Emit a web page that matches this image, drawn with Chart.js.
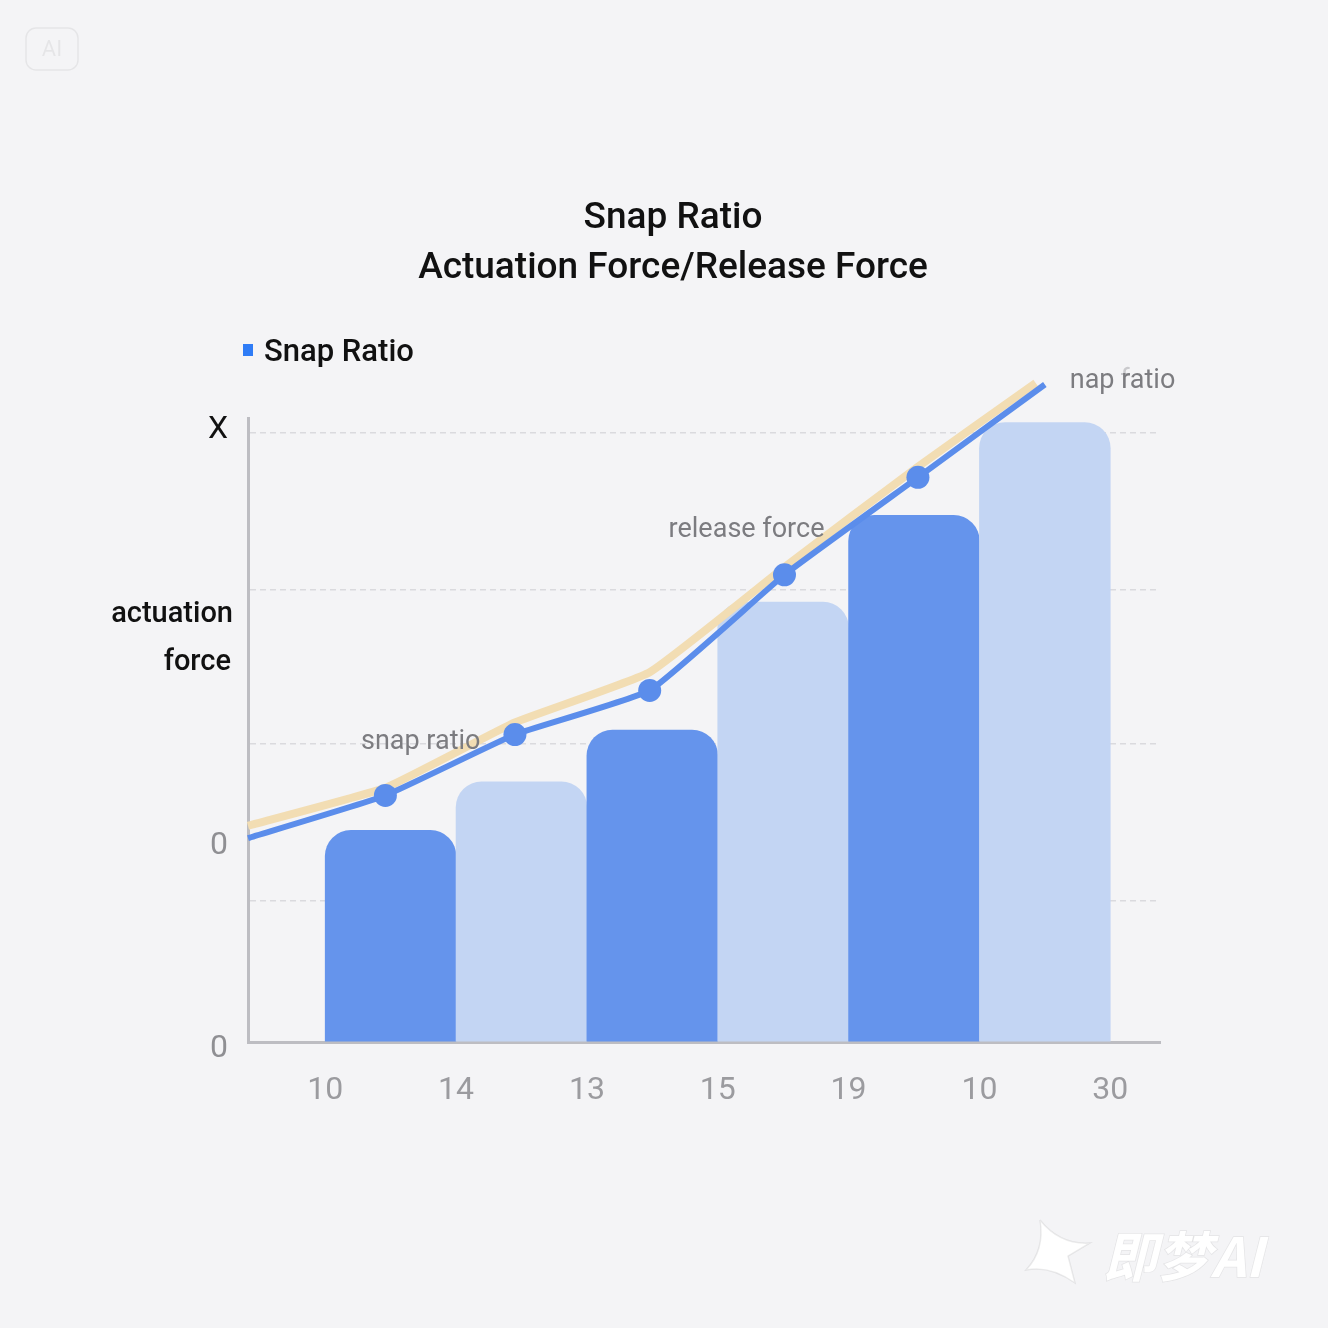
<!DOCTYPE html>
<html>
<head>
<meta charset="utf-8">
<title>Snap Ratio</title>
<script src="https://cdn.jsdelivr.net/npm/chart.js@4.4.1/dist/chart.umd.min.js"></script>
<style>
  html, body { margin: 0; padding: 0; background: #f4f4f6; }
  #wrap { width: 1328px; height: 1328px; }
</style>
</head>
<body>
<div id="wrap"><canvas id="grafico" width="1328" height="1328"></canvas></div>
<script>
    // valores (eixo x em unidades de barra, eixo y em unidades de grade)
    const tickLabels = ['10', '14', '13', '15', '19', '10', '30'];
    const barPositions = [0.5, 1.5, 2.5, 3.5, 4.5, 5.5];
    const barValues = [1.39, 1.71, 2.05, 2.89, 3.46, 4.07];

    const ratioX = [-0.59, 0.46, 1.45, 2.48, 3.51, 4.53, 5.5];
    const ratioValues = [1.34, 1.62, 2.02, 2.31, 3.07, 3.71, 4.32];

    const releaseX = [-0.59, 0.46, 1.45, 2.48, 3.51, 4.53, 5.43];
    const releaseValues = [1.42, 1.67, 2.10, 2.43, 3.12, 3.78, 4.33];

    const gridValues = [0, 0.93, 1.96, 2.97, 4.0];
    const yTickValues = [-0.045, 1.29, 4.02];
    const yTickLabels = ['0', '0', 'X'];

    const cores = ['#6594ec', '#c3d5f3'];
    const fonte = 'Roboto, "Open Sans", sans-serif';
    const fonteTicks = '"Liberation Sans Narrow", Roboto, sans-serif';
    const ajuste = 3; // o "middle" do Roboto fica um pouco alto

    // textos soltos no grafico
    const notas = [
      { text: 'snap ratio', x: 0.73, y: 1.99, align: 'center' },
      { text: 'release force', x: 3.22, y: 3.38, align: 'center' },
      { text: 'nap ratio', x: 5.69, y: 4.36, align: 'left' }
    ];

    const textos = {
      id: 'textos',
      afterDatasetsDraw(chart) {
        const { ctx, scales: { x, y } } = chart;
        ctx.save();
        ctx.font = '400 27px ' + fonte;
        ctx.fillStyle = '#7c7c80';
        ctx.textBaseline = 'middle';
        notas.forEach(n => {
          ctx.textAlign = n.align;
          const px = x.getPixelForValue(n.x);
          const py = y.getPixelForValue(n.y) + ajuste;
          ctx.fillText(n.text, px, py);
          if (n.text === 'nap ratio') {
            // o "f" fantasma por cima do r
            const w = ctx.measureText('nap ').width;
            ctx.globalAlpha = 0.35;
            ctx.fillText('f', px + w - 1, py);
            ctx.globalAlpha = 1;
          }
        });
        ctx.restore();
      },
      afterDraw(chart) {
        const { ctx } = chart;
        ctx.save();
        ctx.fillStyle = '#111';
        ctx.textBaseline = 'middle';
        ctx.textAlign = 'center';
        ctx.font = '500 37px ' + fonte;
        ctx.fillText('Snap Ratio', 673, 216 + ajuste);
        ctx.fillText('Actuation Force/Release Force', 673, 266 + ajuste);

        // legenda
        ctx.fillStyle = '#2f7cf6';
        ctx.fillRect(243, 344, 10, 12);
        ctx.fillStyle = '#111';
        ctx.textAlign = 'left';
        ctx.font = '500 31px ' + fonte;
        ctx.fillText('Snap Ratio', 264, 350 + ajuste);

        // titulo do eixo y
        ctx.textAlign = 'right';
        ctx.font = '500 29px ' + fonte;
        ctx.fillText('actuation', 233, 612 + ajuste);
        ctx.fillText('force', 231, 660 + ajuste);

        // marca d'agua
        ctx.font = 'italic 700 54px "Noto Sans CJK SC", sans-serif';
        ctx.fillStyle = 'rgba(255,255,255,0.95)';
        ctx.strokeStyle = 'rgba(0,0,0,0.07)';
        ctx.lineWidth = 1.5;
        ctx.textAlign = 'left';
        ctx.strokeText('即梦AI', 1103, 1256);
        ctx.fillText('即梦AI', 1103, 1256);
        ctx.beginPath();
        ctx.moveTo(1040, 1220);
        ctx.quadraticCurveTo(1060, 1245, 1090, 1243);
        ctx.lineTo(1068, 1256);
        ctx.lineTo(1075, 1283);
        ctx.quadraticCurveTo(1050, 1265, 1026, 1270);
        ctx.quadraticCurveTo(1045, 1250, 1040, 1220);
        ctx.fill();
        ctx.stroke();

        ctx.strokeStyle = 'rgba(0,0,0,0.06)';
        ctx.beginPath();
        ctx.roundRect(26, 28, 52, 42, 10);
        ctx.stroke();
        ctx.fillStyle = 'rgba(0,0,0,0.06)';
        ctx.font = '400 22px ' + fonte;
        ctx.textAlign = 'center';
        ctx.fillText('AI', 52, 50);
        ctx.restore();
      }
    };

    new Chart(document.getElementById('grafico'), {
      type: 'bar',
      data: {
        datasets: [{
          type: 'line',
          label: 'Snap Ratio',
          data: ratioX.map((v, i) => ({ x: v, y: ratioValues[i] })),
          borderColor: '#5b8deb',
          borderWidth: 6,
          backgroundColor: '#5b8deb',
          pointRadius: ratioX.map((v, i) => i === 0 ? 0 : 11.5),
          pointBorderWidth: 0,
          tension: 0.12,
          clip: false,
          order: 0
        }, {
          type: 'line',
          label: 'release force',
          data: releaseX.map((v, i) => ({ x: v, y: releaseValues[i] })),
          borderColor: '#f2ddb3',
          borderWidth: 8,
          pointRadius: 0,
          tension: 0.12,
          clip: false,
          order: 1
        }, {
          label: 'actuation force',
          data: barPositions.map((v, i) => ({ x: v, y: barValues[i] })),
          backgroundColor: barPositions.map((v, i) => cores[i % 2]),
          barPercentage: 1,
          categoryPercentage: 1,
          borderRadius: { topLeft: 26, topRight: 26, bottomLeft: 0, bottomRight: 0 },
          borderSkipped: 'start',
          order: 2
        }]
      },
      options: {
        responsive: false,
        animation: false,
        devicePixelRatio: 1,
        layout: { padding: { top: 418, right: 168, bottom: 206, left: 0 } },
        plugins: { legend: { display: false }, tooltip: { enabled: false } },
        scales: {
          x: {
            type: 'linear',
            offset: false,
            min: -0.59,
            max: 6.38,
            afterBuildTicks: s => { s.ticks = tickLabels.map((t, i) => ({ value: i })); },
            afterFit: s => { s.height = 80; },
            ticks: {
              callback: (v, i) => tickLabels[i],
              color: '#9b9b9f',
              font: { family: fonteTicks, size: 32 },
              padding: 30,
              autoSkip: false,
              maxRotation: 0
            },
            grid: { display: false, drawTicks: false },
            border: { display: true, color: '#bdbdc2', width: 3 }
          },
          y: {
            type: 'linear',
            min: 0,
            max: 4.1,
            weight: 0,
            afterBuildTicks: s => { s.ticks = gridValues.map(v => ({ value: v })); },
            afterFit: s => { s.width = 0; },
            ticks: { display: false },
            grid: { color: '#dadade', lineWidth: 1.5, drawTicks: false },
            border: { display: true, color: '#bdbdc2', width: 3, dash: [6, 4] }
          },
          yLab: {
            type: 'linear',
            position: 'left',
            min: 0,
            max: 4.1,
            weight: 1,
            afterBuildTicks: s => { s.ticks = yTickValues.map(v => ({ value: v })); },
            afterFit: s => { s.width = 248; },
            ticks: {
              callback: (v, i) => yTickLabels[i],
              color: c => yTickLabels[c.index] === 'X' ? '#111' : '#8f8f93',
              font: { family: fonteTicks, size: 32 },
              padding: 20,
              autoSkip: false
            },
            grid: { display: false, drawTicks: false },
            border: { display: false }
          }
        }
      },
      plugins: [textos]
    });
</script>
</body>
</html>
